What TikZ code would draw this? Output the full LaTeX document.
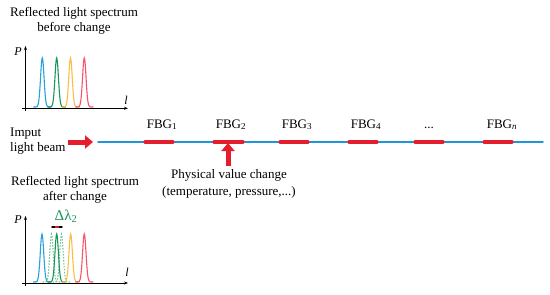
\documentclass[tikz,border=0pt]{standalone}
\usepackage{fontspec}
\setmainfont{Liberation Serif}
\usetikzlibrary{arrows.meta,calc}
\usepackage{tkz-euclide}
\definecolor{FibreClr}{RGB}{30,150,215}
\definecolor{GratClr}{RGB}{228,30,45}
\definecolor{PkBlue}{RGB}{40,160,220}
\definecolor{PkGreen}{RGB}{25,150,90}
\definecolor{PkOrange}{RGB}{250,190,70}
\definecolor{PkRed}{RGB}{245,85,105}
\definecolor{PkShift}{RGB}{120,195,150}

% one reflection peak: centre, base, height, colour
\newcommand{\specpeak}[4]{%
  \draw[#4,line width=1.1pt] plot[domain=-9:9,samples=45,smooth]
    ({#1+\x},{#2-#3*exp(-((\x)*(\x))/6)});}

\begin{document}
\begin{tikzpicture}[x=1pt,y=-1pt,
  txt/.style={font=\fontsize{13}{15}\selectfont,inner sep=0pt},
  axlbl/.style={font=\fontsize{12}{14}\selectfont\itshape,inner sep=0pt},
  bigarrow/.style={GratClr,line width=5pt,-{Triangle[length=8pt,width=13pt]}},
  axarrow/.style={black,line width=0.8pt,-{Stealth[length=4pt,width=3pt]}}]
\useasboundingbox (0,0) rectangle (550,295);

% \tkzDefPoints{0/0/F0,450/0/F1}
\tkzDefPoints{98/142/F0,543/142/F1}
\tkzDefPoints{145/142/G1a,173/142/G1b,214/142/G2a,243/142/G2b,
  280/142/G3a,308/142/G3b,349/142/G4a,377/142/G4b,
  415/142/G5a,443/142/G5b,484/142/G6a,512/142/G6b}
\tkzDefPoints{68/142/In0,93/142/In1,228/166/Ph0,228/143/Ph1}

% spectrum axes
\tkzDefPoints{22/108.3/Ax0,128/108.3/Ax1,25.5/111/Ay0,25.5/46/Ay1}
\tkzDefPoints{22/283/Bx0,128/283/Bx1,25.5/286/By0,25.5/216/By1}
\tkzDefPoints{52/227/D0,62/227/D1,55.5/227/Dr0,58.5/227/Dr1}

\tkzDrawSegments[line width=1.5pt,color=FibreClr](F0,F1)
\tkzDrawSegments[line width=3.2pt,color=GratClr](G1a,G1b G2a,G2b G3a,G3b G4a,G4b G5a,G5b G6a,G6b)

\draw[bigarrow] (In0) -- (In1);
\draw[bigarrow] (Ph0) -- (Ph1);

\node[txt,anchor=base] (fbg1) at (162,128) {FBG\textsubscript{1}};
\node[txt,anchor=base] (fbg2) at (231,128) {FBG\textsubscript{2}};
\node[txt,anchor=base] (fbg3) at (297,128) {FBG\textsubscript{3}};
\node[txt,anchor=base] (fbg4) at (366,128) {FBG\textsubscript{4}};
\node[txt,anchor=base] (dots) at (429,128) {...};
\node[txt,anchor=base] (fbgn) at (502,128) {FBG\textsubscript{\textit{n}}};

\node[txt,anchor=west,align=left] (beam) at (10,141) {Imput\\light beam};
\node[txt,align=center,font=\fontsize{13}{17.5}\selectfont] (phys) at (229,184)
  {Physical value change\\(temperature, pressure,...)};

% before change
\node[txt,align=center] (tbefore) at (74,20.5) {Reflected light spectrum\\before change};
\draw[axarrow] (Ax0) -- (Ax1);
\draw[axarrow] (Ay0) -- (Ay1);
\node[axlbl] (p1) at (18,52) {P};
\node[axlbl] (l1) at (126,100) {l};
\specpeak{42.3}{107}{49}{PkBlue}
\specpeak{56.7}{107}{49}{PkGreen}
\specpeak{70.5}{107}{49}{PkOrange}
\specpeak{84.3}{107}{49}{PkRed}

% after change
\node[txt,align=center] (tafter) at (75,190) {Reflected light spectrum\\after change};
\draw[axarrow] (Bx0) -- (Bx1);
\draw[axarrow] (By0) -- (By1);
\node[axlbl] (p2) at (18,220) {P};
\node[axlbl] (l2) at (127,272.5) {l};
\specpeak{42}{282}{48}{PkBlue}
\specpeak{51.5}{282}{48}{PkShift,dash pattern=on 1.5pt off 1.5pt}
\specpeak{61.5}{282}{48}{PkShift,dash pattern=on 1.5pt off 1.5pt}
\specpeak{56.7}{282}{48}{PkGreen}
\specpeak{70.7}{282}{48}{PkOrange}
\specpeak{84.3}{282}{48}{PkRed}
\tkzDrawSegments[line width=1.5pt,color=black](D0,D1)
\tkzDrawSegments[line width=1.5pt,color=GratClr](Dr0,Dr1)
\node[txt,font=\fontsize{15}{17}\selectfont,text=PkGreen] (dl) at (66,216.5) {Δλ\textsubscript{2}};

\end{tikzpicture}
\end{document}
